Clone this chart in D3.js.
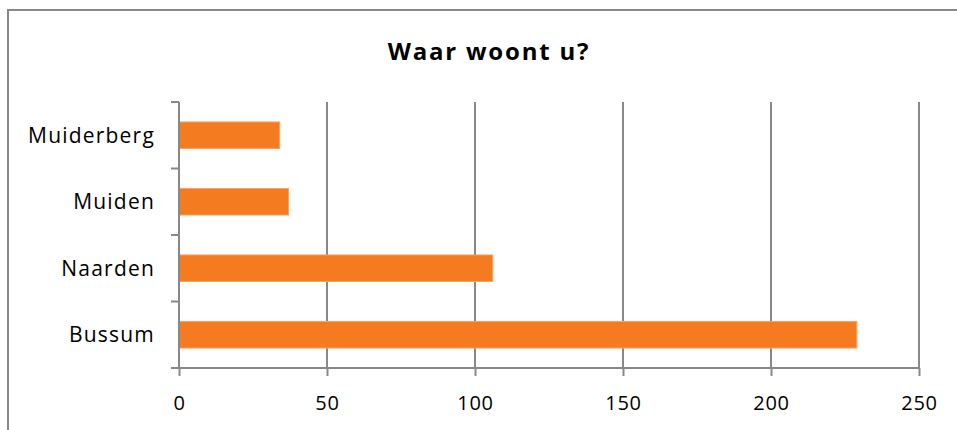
<!DOCTYPE html>
<html>
<head>
<meta charset="utf-8">
<script src="https://cdn.jsdelivr.net/npm/d3@7"></script>
<style>
  body { margin: 0; background: #fff; }
  text { font-family: "Open Sans", Lato, sans-serif; fill: #000; }
</style>
</head>
<body>
<div id="chart"></div>
<script>
var categories = ["Bussum", "Naarden", "Muiden", "Muiderberg"];
var values = [229, 106, 37, 34];
var xTicks = [0, 50, 100, 150, 200, 250];
var title = "Waar woont u?";

var width = 957, height = 430;
var plotLeft = 179, plotRight = 919, plotTop = 102, plotBottom = 368;

var svg = d3.select("#chart").append("svg")
  .attr("width", width)
  .attr("height", height);

// chart area frame (right and bottom edge fall outside the picture)
svg.append("rect")
  .attr("x", 8).attr("y", 10)
  .attr("width", 970).attr("height", 440)
  .attr("fill", "none")
  .attr("stroke", "#888")
  .attr("stroke-width", 2);

svg.append("text")
  .attr("x", 489).attr("y", 60)
  .attr("text-anchor", "middle")
  .style("font-size", "24px")
  .style("font-weight", "bold")
  .style("letter-spacing", "1.8px")
  .text(title);

var x = d3.scaleLinear().domain([0, 250]).range([plotLeft, plotRight]);
var y = d3.scaleBand().domain(categories).range([plotBottom, plotTop]).paddingInner(0.6).paddingOuter(0.3);
var yEdge = d3.scaleLinear().domain([0, categories.length]).range([plotBottom, plotTop]);

// gridlines
svg.append("g").selectAll("line")
  .data(xTicks.slice(1))
  .enter().append("line")
  .attr("x1", d => x(d)).attr("x2", d => x(d))
  .attr("y1", plotTop).attr("y2", plotBottom)
  .attr("stroke", "#888")
  .attr("stroke-width", 2);

// bars
svg.append("g").selectAll("rect")
  .data(values)
  .enter().append("rect")
  .attr("x", x(0))
  .attr("y", (d, i) => y(categories[i]))
  .attr("width", d => x(d) - x(0))
  .attr("height", y.bandwidth())
  .attr("fill", "#f47b20")
  .attr("stroke", "#f8a266")
  .attr("stroke-width", 1);

// x axis
var xAxis = svg.append("g")
  .attr("transform", "translate(0," + plotBottom + ")")
  .call(d3.axisBottom(x).tickValues(xTicks).tickSize(8).tickPadding(20));
xAxis.selectAll("line, path").attr("stroke", "#888").attr("stroke-width", 2);
xAxis.select(".domain").attr("d", "M" + (plotLeft - 8) + ",0H" + plotRight);
xAxis.selectAll("text").attr("font-size", null).attr("font-family", null)
  .style("font-size", "20px").style("letter-spacing", "0.8px");

// y axis
var yAxis = svg.append("g").attr("transform", "translate(" + plotLeft + ",0)");
yAxis.append("line")
  .attr("x1", 0).attr("x2", 0)
  .attr("y1", plotTop).attr("y2", plotBottom)
  .attr("stroke", "#888").attr("stroke-width", 2);
yAxis.selectAll(".tick")
  .data(d3.range(categories.length + 1))
  .enter().append("line")
  .attr("x1", -8).attr("x2", 0)
  .attr("y1", d => yEdge(d)).attr("y2", d => yEdge(d))
  .attr("stroke", "#888").attr("stroke-width", 2);
yAxis.selectAll(".lab")
  .data(categories)
  .enter().append("text")
  .attr("x", -24)
  .attr("y", d => y(d) + y.bandwidth() / 2)
  .attr("dy", "0.35em")
  .attr("text-anchor", "end")
  .style("font-size", "21px")
  .style("letter-spacing", "1.2px")
  .text(d => d);
</script>
</body>
</html>
